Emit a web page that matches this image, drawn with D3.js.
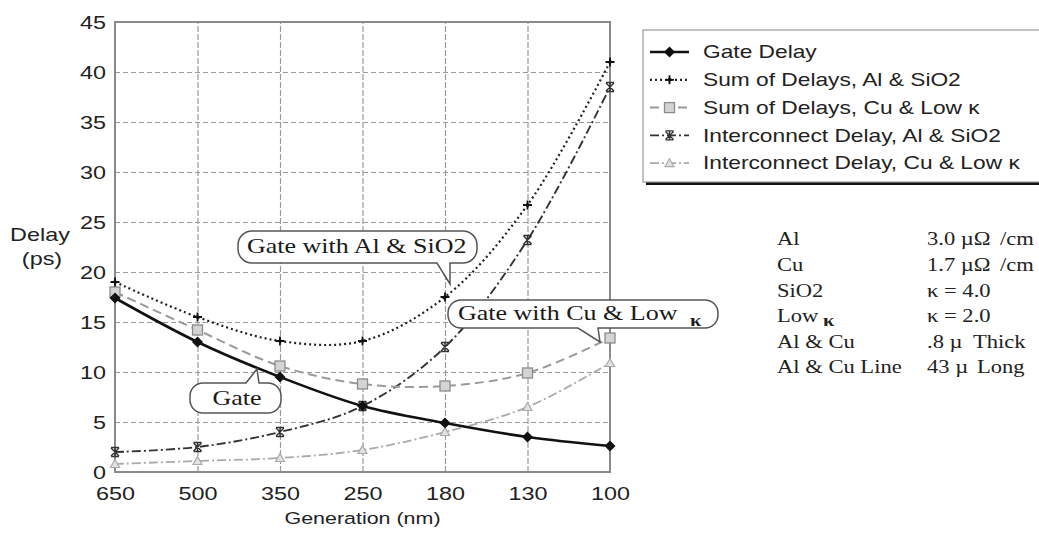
<!DOCTYPE html>
<html>
<head>
<meta charset="utf-8">
<script src="https://cdn.jsdelivr.net/npm/d3@7"></script>
<style>
  html, body { margin: 0; padding: 0; background: #fff; }
  svg { display: block; }
</style>
</head>
<body>
<svg id="chart" width="1039" height="533"></svg>
<script>
// ---------------- DATA ----------------
const generations = ["650", "500", "350", "250", "180", "130", "100"];
const gateDelay   = [17.4, 13.0, 9.5, 6.6, 4.9, 3.5, 2.6];
const sumAlSiO2   = [19.0, 15.5, 13.1, 13.1, 17.5, 26.7, 41.0];
const sumCuLowK   = [18.0, 14.2, 10.6, 8.8, 8.6, 9.9, 13.4];
const interAlSiO2 = [2.0, 2.5, 4.0, 6.6, 12.5, 23.2, 38.5];
const interCuLowK = [0.8, 1.1, 1.4, 2.2, 4.0, 6.5, 10.9];
const yTicks      = [0, 5, 10, 15, 20, 25, 30, 35, 40, 45];
const seriesNames = ["Gate Delay", "Sum of Delays, Al & SiO2", "Sum of Delays, Cu & Low  \u03BA",
                     "Interconnect Delay, Al & SiO2", "Interconnect Delay, Cu & Low  \u03BA"];
const tableLeft   = ["Al", "Cu", "SiO2", "Low", "Al & Cu", "Al & Cu Line"];
const tableRight  = ["3.0 \u00B5\u03A9", "1.7 \u00B5\u03A9", "\u03BA = 4.0", "\u03BA = 2.0", ".8 \u00B5", "43 \u00B5"];
const tableUnits  = ["/cm", "/cm", "", "", "Thick", "Long"];

// ---------------- SETUP ----------------
const svg = d3.select("#chart");
const L = 115, R = 610, T = 22, B = 472;
const x = d3.scalePoint().domain(generations).range([L, R]);
const y = d3.scaleLinear().domain([0, 45]).range([B, T]);

const SANS = "'Liberation Sans', Arial, sans-serif";
const SERIF = "'Liberation Serif', 'Times New Roman', serif";

function stext(parent, px, py, s, o) {
  o = Object.assign({size: 18, family: SANS, anchor: "start", fill: "#222", sx: 1.3}, o || {});
  return parent.append("text")
    .attr("transform", `translate(${px},${py}) scale(${o.sx},1)`)
    .attr("text-anchor", o.anchor)
    .attr("dy", "0.35em")
    .attr("fill", o.fill)
    .style("font-family", o.family)
    .style("font-size", o.size + "px")
    .text(s);
}

svg.append("rect").attr("width", 1039).attr("height", 533).attr("fill", "#fff");

// ---------------- GRID ----------------
const grid = svg.append("g");
grid.append("g")
  .attr("transform", `translate(${L},0)`)
  .call(d3.axisLeft(y).tickValues(yTicks.slice(1, -1)).tickSize(-(R - L)).tickFormat(""))
  .call(g => g.select(".domain").remove())
  .call(g => g.selectAll("line").attr("stroke", "#9a9a9a").attr("stroke-width", 1.2).attr("stroke-dasharray", "5,3"));
grid.append("g")
  .attr("transform", `translate(0,${B})`)
  .call(d3.axisBottom(x).tickValues(generations.slice(1, -1)).tickSize(-(B - T)).tickFormat(""))
  .call(g => g.select(".domain").remove())
  .call(g => g.selectAll("line").attr("stroke", "#9a9a9a").attr("stroke-width", 1.2).attr("stroke-dasharray", "6,2"));

// plot frame
svg.append("rect").attr("x", L).attr("y", T).attr("width", R - L).attr("height", B - T)
  .attr("fill", "none").attr("stroke", "#8a8a8a").attr("stroke-width", 2);

// ---------------- AXES ----------------
const yAxis = svg.append("g").attr("transform", `translate(${L},0)`)
  .call(d3.axisLeft(y).tickValues(yTicks).tickSize(0))
  .call(g => g.select(".domain").remove());
yAxis.selectAll("text")
  .attr("x", -7).attr("dy", "0.35em")
  .attr("transform", "scale(1.3,1)")
  .attr("fill", "#222")
  .style("font-family", SANS).style("font-size", "18px");

const xAxis = svg.append("g").attr("transform", `translate(0,${B})`)
  .call(d3.axisBottom(x).tickSize(0))
  .call(g => g.select(".domain").remove());
xAxis.selectAll("text")
  .attr("y", 22).attr("dy", "0.35em")
  .attr("transform", "scale(1.3,1)")
  .attr("fill", "#222")
  .style("font-family", SANS).style("font-size", "18px");

stext(svg, (L + R) / 2, 518, "Generation (nm)", {anchor: "middle", size: 16.5});
stext(svg, 40, 235, "Delay", {anchor: "middle", size: 18});
stext(svg, 42, 259, "(ps)", {anchor: "middle", size: 18});

// ---------------- MARKERS ----------------
const markers = {
  diamond: (g) => g.append("path").attr("d", "M0,-5.5L5.5,0L0,5.5L-5.5,0Z").attr("fill", "#111"),
  plus: (g) => { g.append("path").attr("d", "M-4.5,0H4.5M0,-4.5V4.5").attr("stroke", "#111").attr("stroke-width", 1.8);
                 g.append("path").attr("d", "M0,-2.5L2.5,0L0,2.5L-2.5,0Z").attr("fill", "#111"); },
  square: (g) => g.append("rect").attr("x", -5).attr("y", -5).attr("width", 10).attr("height", 10)
                  .attr("fill", "#d4d4d4").attr("stroke", "#8c8c8c").attr("stroke-width", 1.3),
  asterisk: (g) => g.append("path").attr("d", "M-4,-4L4,4M-4,4L4,-4M-4,-4.5H4M-4,4.5H4M0,-4.5V4.5")
                  .attr("stroke", "#333").attr("stroke-width", 1.4).attr("fill", "none"),
  triangle: (g) => g.append("path").attr("d", "M0,-4.5L4.5,3.5H-4.5Z")
                  .attr("fill", "#e2e2e2").attr("stroke", "#aaa").attr("stroke-width", 1.2)
};

const series = [
  {name: seriesNames[4], values: interCuLowK, color: "#aaaaaa", width: 1.8, dash: "9,3,2,3", marker: "triangle"},
  {name: seriesNames[3], values: interAlSiO2, color: "#333333", width: 1.9, dash: "9,3,2,3", marker: "asterisk"},
  {name: seriesNames[2], values: sumCuLowK,   color: "#9a9a9a", width: 2.0, dash: "9,5",     marker: "square"},
  {name: seriesNames[1], values: sumAlSiO2,   color: "#222222", width: 2.2, dash: "2,3",     marker: "plus"},
  {name: seriesNames[0], values: gateDelay,   color: "#111111", width: 2.6, dash: null,      marker: "diamond"}
];

const line = d3.line()
  .x((d, i) => x(generations[i]))
  .y(d => y(d))
  .curve(d3.curveCatmullRom.alpha(0.5));

series.forEach(s => {
  svg.append("path").datum(s.values)
    .attr("d", line)
    .attr("fill", "none")
    .attr("stroke", s.color)
    .attr("stroke-width", s.width)
    .attr("stroke-dasharray", s.dash);
  s.values.forEach((v, i) => {
    const g = svg.append("g").attr("transform", `translate(${x(generations[i])},${y(v)})`);
    markers[s.marker](g);
  });
});

// ---------------- CALLOUTS ----------------
function callout(x0, y0, x1, y1, r, side, b0, b1, tx, ty) {
  const p = d3.path();
  p.moveTo(x0 + r, y0);
  if (side === "top") { p.lineTo(b0, y0); p.lineTo(tx, ty); p.lineTo(b1, y0); }
  p.lineTo(x1 - r, y0); p.arcTo(x1, y0, x1, y0 + r, r);
  p.lineTo(x1, y1 - r); p.arcTo(x1, y1, x1 - r, y1, r);
  if (side === "bottom") { p.lineTo(b1, y1); p.lineTo(tx, ty); p.lineTo(b0, y1); }
  p.lineTo(x0 + r, y1); p.arcTo(x0, y1, x0, y1 - r, r);
  p.lineTo(x0, y0 + r); p.arcTo(x0, y0, x0 + r, y0, r);
  p.closePath();
  return svg.append("path").attr("d", p.toString())
    .attr("fill", "#fff").attr("stroke", "#555").attr("stroke-width", 1.5);
}

callout(238, 231, 477, 263, 14, "bottom", 437, 450, 450, 284);
stext(svg, 247, 246, "Gate with Al & SiO2", {family: SERIF, size: 20, fill: "#1a1a1a"});

callout(448, 300, 718, 328, 13, "bottom", 578, 598, 600, 342);
stext(svg, 458, 313, "Gate with Cu & Low", {family: SERIF, size: 20, fill: "#1a1a1a"});
stext(svg, 690, 320, "\u03BA", {family: SERIF, size: 17, fill: "#1a1a1a", sx: 1.2}).style("font-weight", "bold");

callout(190, 383, 281, 413, 13, "top", 246, 259, 257, 369);
stext(svg, 237, 398, "Gate", {family: SERIF, size: 20, fill: "#1a1a1a", anchor: "middle"});

// ---------------- LEGEND ----------------
const lg = svg.append("g");
lg.append("rect").attr("x", 646).attr("y", 33).attr("width", 420).attr("height", 152).attr("fill", "#111");
lg.append("rect").attr("x", 643).attr("y", 30).attr("width", 420).attr("height", 152)
  .attr("fill", "#fff").attr("stroke", "#999").attr("stroke-width", 1.2);
const legendOrder = [4, 3, 2, 1, 0];
legendOrder.forEach((si, k) => {
  const s = series[si];
  const ly = 52 + k * 27.8;
  lg.append("line").attr("x1", 650).attr("x2", 689).attr("y1", ly).attr("y2", ly)
    .attr("stroke", s.color).attr("stroke-width", s.width).attr("stroke-dasharray", s.dash);
  const g = lg.append("g").attr("transform", `translate(669.5,${ly})`);
  markers[s.marker](g);
  stext(lg, 703, ly, s.name, {size: 17.5, fill: "#222"});
});

// ---------------- PROPERTY TABLE ----------------
const tb = svg.append("g");
tableLeft.forEach((t, i) => {
  const ty = 239 + i * 25.6;
  stext(tb, 777, ty, t, {family: SERIF, size: 18.5, sx: 1.22, fill: "#222"});
  stext(tb, 927, ty, tableRight[i], {family: SERIF, size: 18.5, sx: 1.22, fill: "#222"});
  if (tableUnits[i]) {
    const ux = tableUnits[i] === "/cm" ? 1000 : (tableUnits[i] === "Thick" ? 973 : 977);
    stext(tb, ux, ty, tableUnits[i], {family: SERIF, size: 18.5, sx: 1.22, fill: "#222"});
  }
  if (t === "Low") {
    stext(tb, 823, ty + 4, "\u03BA", {family: SERIF, size: 17, sx: 1.2, fill: "#222"}).style("font-weight", "bold");
  }
});
</script>
</body>
</html>
